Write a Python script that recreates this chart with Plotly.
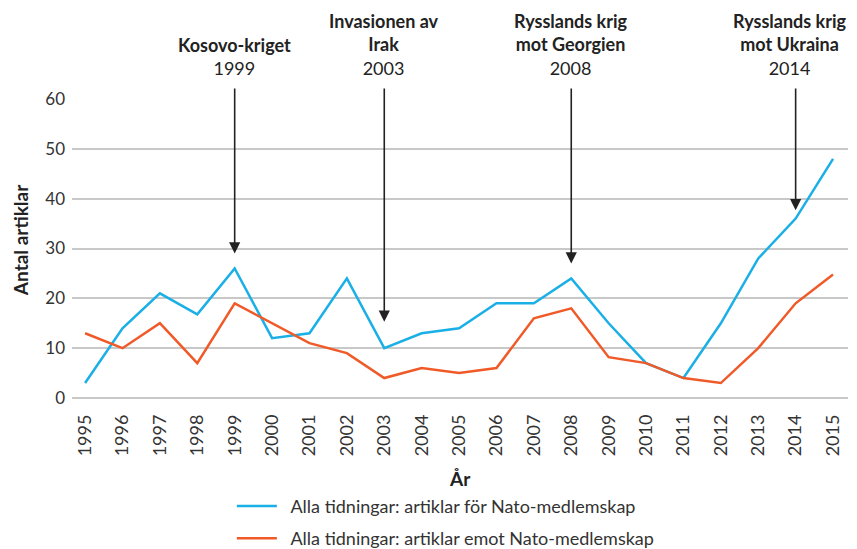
import plotly.graph_objects as go

years = list(range(1995, 2016))
for_nato = [3, 14, 21, 16.8, 26, 12, 13, 24, 10, 13, 14, 19, 19, 24, 15, 7, 4, 15, 28, 36, 48]
emot_nato = [13, 10, 15, 7, 19, 15, 11, 9, 4, 6, 5, 6, 16, 18, 8.2, 7, 4, 3, 10, 19, 24.8]

event_years = [1999, 2003, 2008, 2014]
event_titles = ["Kosovo-kriget", "Invasionen av<br>Irak", "Rysslands krig<br>mot Georgien", "Rysslands krig<br>mot Ukraina"]
arrow_tips = [29, 15.3, 27, 37.7]

series_names = ["Alla tidningar: artiklar för Nato-medlemskap",
                "Alla tidningar: artiklar emot Nato-medlemskap"]
x_title = "År"
y_title = "Antal artiklar"

FONT = "Lato"
BLUE = "#1aafe6"
ORANGE = "#f05a28"
PAD = "\u00a0\u00a0"

fig = go.Figure()
fig.add_trace(go.Scatter(x=years, y=for_nato, mode="lines", name=PAD + series_names[0],
                         line=dict(color=BLUE, width=2.5), legendgroup="a"))
fig.add_trace(go.Scatter(x=years, y=emot_nato, mode="lines", name=PAD + series_names[1],
                         line=dict(color=ORANGE, width=2.5), legendgroup="b"))

annotations = []
for i, (yr, title, tip) in enumerate(zip(event_years, event_titles, arrow_tips)):
    annotations.append(dict(x=yr, y=tip, ax=yr, ay=62.4, xref="x", yref="y",
                            axref="x", ayref="y", text="", showarrow=True,
                            arrowhead=2, arrowsize=1.4, arrowwidth=1.6,
                            arrowcolor="#222222"))
    annotations.append(dict(x=yr, y=60, xref="x", yref="y", yanchor="bottom",
                            yshift=18, xshift=(-6 if i == len(event_years) - 1 else 0),
                            showarrow=False,
                            text="<b>" + title + "</b><br>" + str(yr),
                            font=dict(family=FONT, size=18, color="#222222"),
                            align="center"))
# axis titles
annotations.append(dict(x=0, y=0.528, xref="paper", yref="paper", xanchor="center",
                        yanchor="middle", xshift=-52, showarrow=False, textangle=-90,
                        text="<b>" + y_title + "</b>",
                        font=dict(family=FONT, size=19, color="#222222")))
annotations.append(dict(x=0.5, y=0, xref="paper", yref="paper", xanchor="center",
                        yanchor="middle", yshift=-80, showarrow=False,
                        text="<b>" + x_title + "</b>",
                        font=dict(family=FONT, size=19, color="#222222")))

# page body has an 8px default margin; figure placed to compensate
fig.update_layout(
    width=849, height=541,
    margin=dict(l=64, r=9, t=91, b=151, autoexpand=False),
    paper_bgcolor="white", plot_bgcolor="white",
    font=dict(family=FONT, color="#333333"),
    showlegend=True,
    legend=dict(orientation="v", x=0.206, xanchor="left", y=-0.30, yanchor="top",
                font=dict(family=FONT, size=18, color="#333333"),
                traceorder="grouped", tracegroupgap=6, itemwidth=40),
    annotations=annotations,
)
fig.update_xaxes(range=[1994.65, 2015.4], tickmode="array", tickvals=years,
                 ticktext=[str(y) for y in years], tickangle=-90,
                 tickfont=dict(family=FONT, size=18, color="#333333"),
                 showgrid=False, zeroline=False, showline=False, ticks="",
                 ticklabelstandoff=12, automargin=False)
fig.update_yaxes(range=[0, 60], tickvals=[0, 10, 20, 30, 40, 50, 60],
                 tickfont=dict(family=FONT, size=17, color="#333333"),
                 showgrid=True, gridcolor="#c8c8c8", gridwidth=1.5,
                 zeroline=True, zerolinecolor="#c8c8c8", zerolinewidth=1.5,
                 showline=False, ticks="", ticklabelstandoff=6, automargin=False)

fig.write_html("out.html")
